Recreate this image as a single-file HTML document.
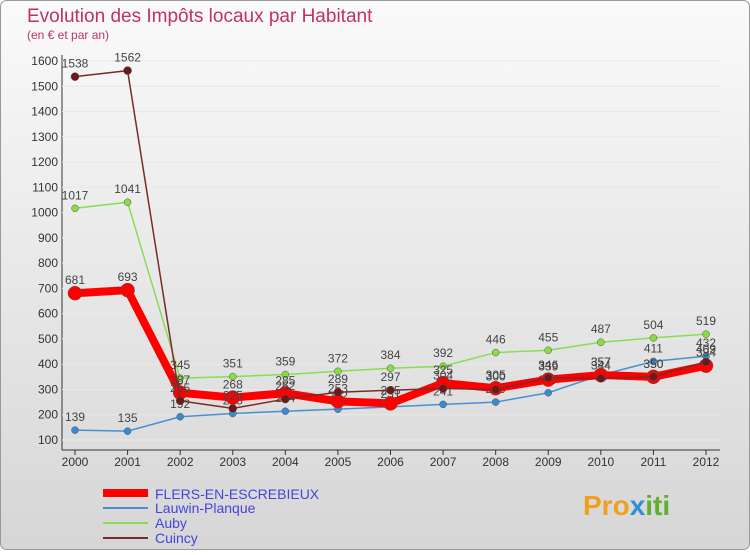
<!DOCTYPE html>
<html><head><meta charset="utf-8"><style>
body{margin:0;width:750px;height:550px;overflow:hidden;font-family:"Liberation Sans",sans-serif;}
</style></head><body>
<svg width="750" height="550">
<defs><linearGradient id="bg" x1="0" y1="0" x2="0" y2="1"><stop offset="0" stop-color="#fafafa"/><stop offset="1" stop-color="#d6d6d6"/></linearGradient></defs>
<rect x="0.5" y="0.5" width="749" height="549" rx="6" fill="url(#bg)" stroke="#999"/>
<text x="27" y="22" font-size="19" fill="#c0306a">Evolution des Impôts locaux par Habitant</text>
<text x="27" y="39" font-size="12" fill="#c0306a">(en € et par an)</text>
<g id="axes"></g><g id="series"></g>
<g>
<line x1="103" y1="493" x2="148" y2="493" stroke="#f00" stroke-width="8"/><text x="155" y="499" font-size="14" fill="#4444dd">FLERS-EN-ESCREBIEUX</text>
<line x1="103" y1="508" x2="148" y2="508" stroke="#4a90d0" stroke-width="2"/><text x="155" y="513" font-size="14" fill="#4444dd">Lauwin-Planque</text>
<line x1="103" y1="523" x2="148" y2="523" stroke="#88dd55" stroke-width="2"/><text x="155" y="528" font-size="14" fill="#4444dd">Auby</text>
<line x1="103" y1="538" x2="148" y2="538" stroke="#7a2a2a" stroke-width="2"/><text x="155" y="543" font-size="14" fill="#4444dd">Cuincy</text>
</g>
<text x="583" y="515" font-size="28" font-weight="bold" fill="#f0a020">Pro<tspan fill="#3090d0">x</tspan><tspan fill="#60b030">iti</tspan></text>
</svg>
<script>
const years=[2000,2001,2002,2003,2004,2005,2006,2007,2008,2009,2010,2011,2012];
const yTicks=[100,200,300,400,500,600,700,800,900,1000,1100,1200,1300,1400,1500,1600];
const flers=[681,693,287,268,285,253,245,325,305,339,357,350,394];
const lauwin=[139,135,192,205,214,222,231,241,250,287,357,411,432];
const auby=[1017,1041,345,351,359,372,384,392,446,455,487,504,519];
const cuincy=[1538,1562,255,225,262,289,297,304,300,346,344,350,409];
const NS="http://www.w3.org/2000/svg";
const X=i=>75+i*(706-75)/12, Y=v=>440-(v-100)*(440-61)/1500;
function mk(t,a,p){const e=document.createElementNS(NS,t);for(const k in a)e.setAttribute(k,a[k]);p.appendChild(e);return e;}
const ax=document.getElementById('axes');
const yl=mk('line',{x1:62,y1:55,x2:62,y2:450,stroke:'#333'},ax);


const xl=mk('line',{x1:62,y1:450,x2:720,y2:450,stroke:'#333'},ax);


yTicks.forEach(v=>{mk('line',{x1:62,y1:Y(v),x2:720,y2:Y(v),stroke:'#e8e8e8'},ax);
const t=mk('text',{x:58,y:Y(v)+4,'font-size':12,'text-anchor':'end',fill:'#333'},ax);t.textContent=v;

});
years.forEach((y,i)=>{mk('line',{x1:X(i),y1:450,x2:X(i),y2:455,stroke:'#333'},ax);
const t=mk('text',{x:X(i),y:466,'font-size':12,'text-anchor':'middle',fill:'#333'},ax);t.textContent=y;

});
const sg=document.getElementById('series');
function series(d,col,w,r,dot,name){const g=mk('g',{},sg);


mk('polyline',{points:d.map((v,i)=>X(i)+','+Y(v)).join(' '),fill:'none',stroke:col,'stroke-width':w,'stroke-linejoin':'round'},g);
d.forEach((v,i)=>{const c=mk('circle',{cx:X(i),cy:Y(v),r:r,fill:dot,stroke:'#555','stroke-width':0.5},g);


const t=mk('text',{x:X(i),y:Y(v)-9,'font-size':12,'text-anchor':'middle',fill:'#444'},g);t.textContent=v;});}
series(lauwin,'#4a90d0',1.5,3.5,'#3a8ad0','series-lauwin');
series(auby,'#88dd55',1.5,3.5,'#88dd44','series-auby');
series(flers,'#f00',8,7,'#f00','series-flers');
series(cuincy,'#7a2a2a',1.5,4,'#6a1a1a','series-cuincy');
</script>
</body></html>
